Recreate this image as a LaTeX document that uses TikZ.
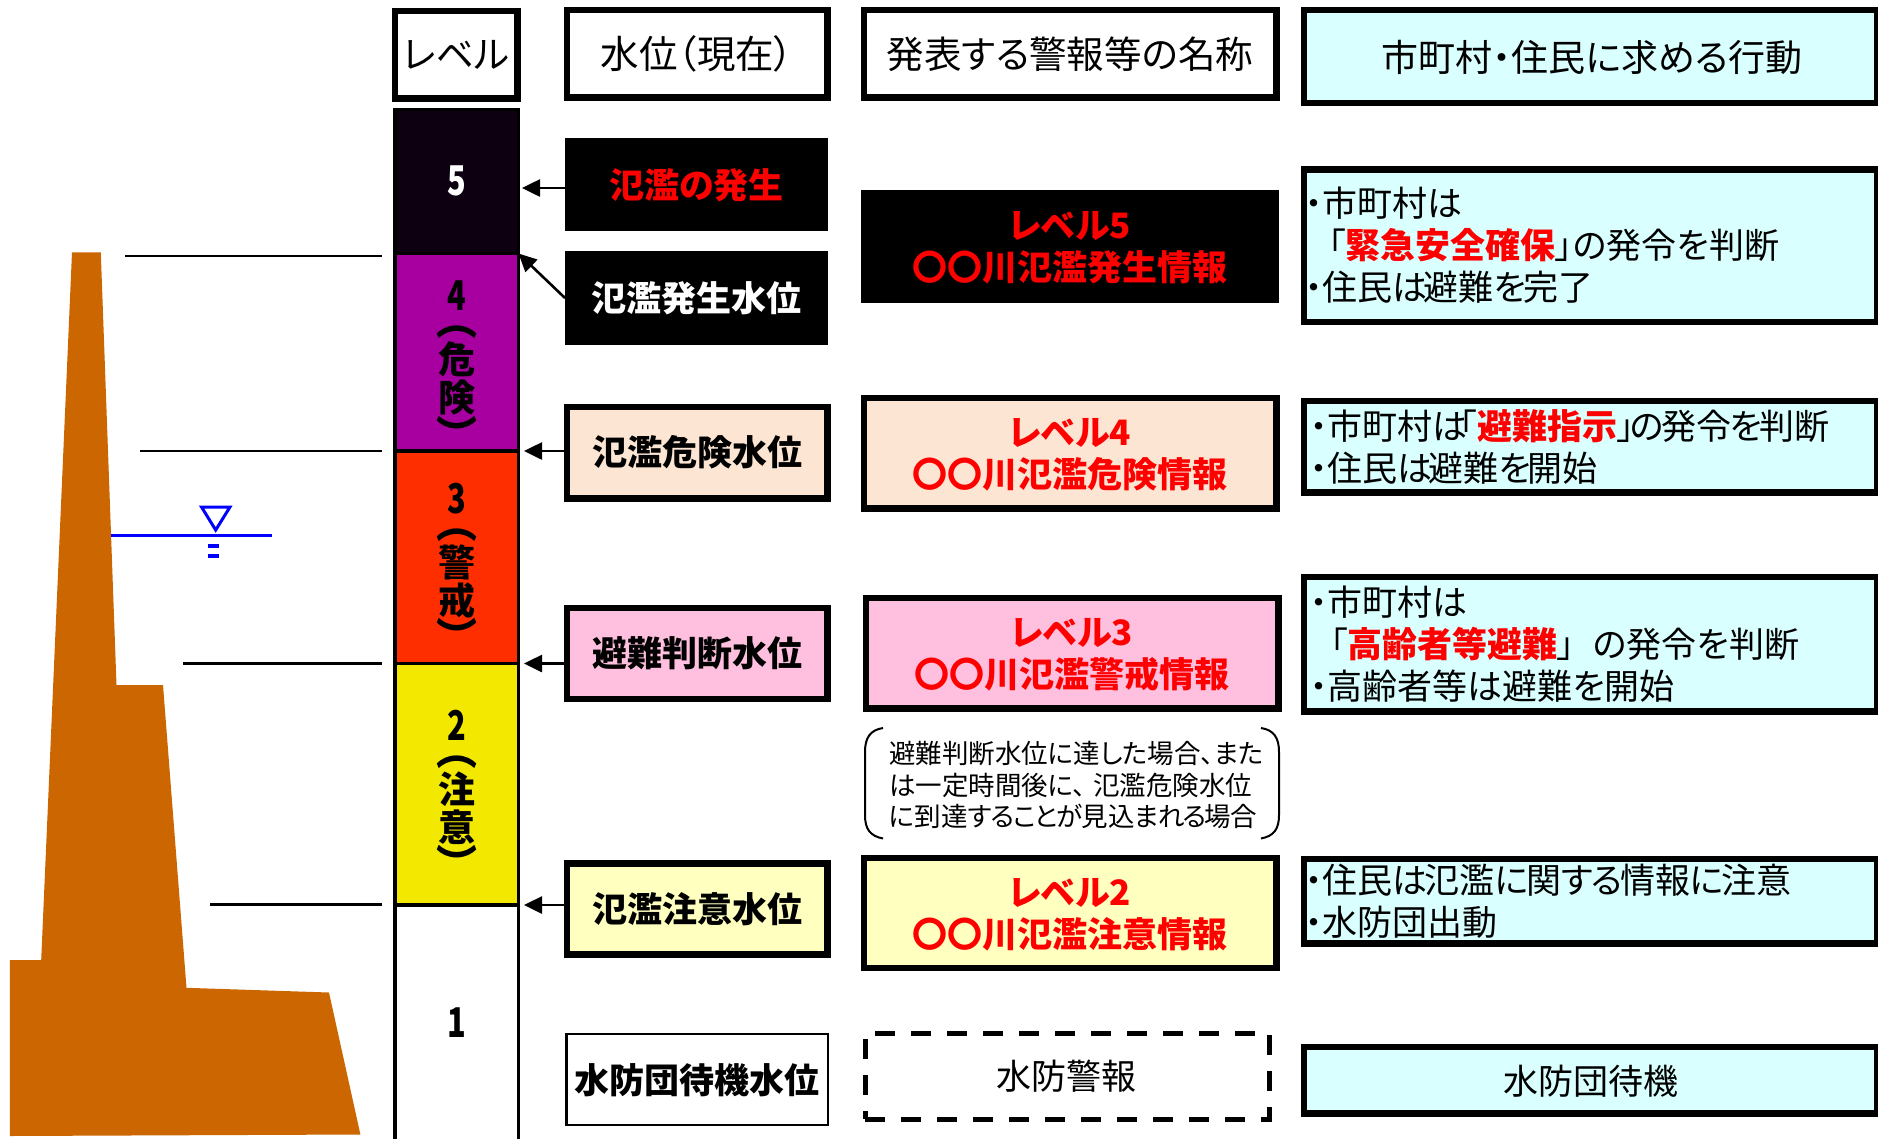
\documentclass[tikz,border=0pt]{standalone}
\usepackage{fontspec}
\usetikzlibrary{arrows.meta}
\setmainfont{Noto Sans CJK JP}[RawFeature=+palt]
\newfontfamily\dgfont{Noto Sans CJK JP}[FakeStretch=0.75]
\definecolor{damc}{HTML}{CC6600}
\definecolor{peach}{HTML}{FDE5D3}
\definecolor{pinkb}{HTML}{FFC0E0}
\definecolor{yellowb}{HTML}{FFFFC0}
\definecolor{cyanb}{HTML}{D9FFFF}
\definecolor{lvfive}{HTML}{0D0010}
\definecolor{lvfour}{HTML}{A800A0}
\definecolor{lvthree}{HTML}{FF2E00}
\definecolor{lvtwo}{HTML}{F2E800}
\newcommand{\rd}[1]{{\bfseries\color{red}#1}}
\newcommand{\dt}{・}
\newcommand{\dg}[1]{{\dgfont\bfseries\fontsize{41}{38}\selectfont #1}}
\newcommand{\po}{{\fontsize{41}{38}\selectfont ︵}}
\newcommand{\pc}{{\fontsize{41}{38}\selectfont ︶}}
\newcommand{\kn}[1]{\hspace{-#1pt}}
\tikzset{
  sized/.style 2 args={minimum width=#1pt,minimum height=#2pt,inner sep=0pt,outer sep=0pt,rectangle},
  hbox/.style={draw=black,line width=6.5pt},
  abox/.style={draw=black,line width=6.5pt,fill=cyanb},
  blk/.style={fill=black,draw=none},
  seg/.style={draw=black,line width=3.2pt},
  big/.style={font=\fontsize{35}{42}\selectfont,inner sep=0pt,outer sep=0pt},
  hdr/.style={font=\fontsize{37.5}{42}\selectfont,inner sep=0pt,outer sep=0pt},
  bigb/.style={font=\fontsize{35}{41.5}\selectfont\bfseries,inner sep=0pt,outer sep=0pt,align=center},
  red2/.style={bigb,text=red},
  act/.style={big,anchor=west,align=left},
  lvtext/.style={font=\fontsize{37}{38}\selectfont\bfseries,inner sep=0pt,align=center},
  arr/.style={line width=2.6pt,-{Triangle[length=18pt,width=17pt]}},
  lvl/.style={line width=2.4pt,draw=black},
}
\begin{document}
\begin{tikzpicture}[x=1pt,y=-1pt]
\useasboundingbox (0,0) rectangle (1878,1138);
\fill[white] (0,0) rectangle (1878,1138);
% dam
\fill[damc] (72,252.4) -- (100.8,252.4) -- (116.5,685) -- (163,685) -- (186.5,987.8) -- (329,992.5) -- (360.4,1134.5) -- (9.8,1136) -- (9.8,960) -- (41.2,960) -- cycle;
% water mark
\draw[blue,line width=3pt] (110.6,535) -- (271.5,535);
\draw[blue,line width=3pt] (201.5,507) -- (230,507) -- (215.7,530) -- cycle;
\draw[blue,line width=4pt] (207.6,546) -- (219,546);
\draw[blue,line width=4pt] (207.6,555.6) -- (219,555.6);
% headers
\node[sized={122.5}{87.5},hbox] (hdrL) at (456,54.5) {};
\node[sized={260.5}{87.5},hbox] (hdrW) at (697,53.5) {};
\node[sized={412.5}{87.5},hbox] (hdrN) at (1070,53.5) {};
\node[sized={573}{93},abox] (hdrA) at (1590.5,56.5) {};
\node[hdr] (tL) at (456,54.5) {レベル};
\node[hdr,font=\fontsize{38.5}{42}\selectfont] (tW) at (697,54) {水位（現在）};
\node[hdr] (tN) at (1070,54.5) {発表する警報等の名称};
\node[hdr,font=\fontsize{37}{42}\selectfont] (tA) at (1592,57) {市町村・住民に求める行動};
% level column
\node[sized={123.5}{144},seg,fill=lvfive] (lv5) at (456.75,181.5) {};
\node[sized={123.5}{197.5},seg,fill=lvfour] (lv4) at (456.75,352.25) {};
\node[sized={123.5}{212.5},seg,fill=lvthree] (lv3) at (456.75,557.25) {};
\node[sized={123.5}{241.5},seg,fill=lvtwo] (lv2) at (456.75,784.25) {};
\node[sized={123.5}{240},seg,fill=white] (lv1) at (456.75,1025) {};
\node[lvtext,text=white] (n5) at (456.75,181) {\dg{5}};
\node[lvtext] (n4) at (456.75,365.5) {\dg{4}\\[-13pt]\po\\危\\険\\\pc};
\node[lvtext] (n3) at (456.75,567.5) {\dg{3}\\[-13pt]\po\\警\\戒\\\pc};
\node[lvtext] (n2) at (456.75,795) {\dg{2}\\[-13pt]\po\\注\\意\\\pc};
\node[lvtext] (n1) at (456.75,1023) {\dg{1}};
% water level boxes
\node[sized={263}{93},blk] (b5) at (696.5,184.5) {};
\node[sized={263}{94},blk] (bf) at (696.5,298) {};
\node[sized={260.5}{91.5},hbox,fill=peach] (b4) at (697,452.5) {};
\node[sized={260.5}{91},hbox,fill=pinkb] (b3) at (697,653.25) {};
\node[sized={260.5}{91},hbox,fill=yellowb] (b2) at (697,909) {};
\node[sized={261.5}{91},draw=black,line width=2.5pt] (b1) at (697,1079.5) {};
\node[red2] (t5) at (696.5,185) {氾濫の発生};
\node[bigb,text=white] (tf) at (696.5,298) {氾濫発生水位};
\node[bigb] (t4) at (697,452) {氾濫危険水位};
\node[bigb] (t3) at (697,653) {避難判断水位};
\node[bigb] (t2) at (697,909) {氾濫注意水位};
\node[bigb] (t1) at (697,1080) {水防団待機水位};
% arrows
\coordinate (e5) at (522,188);
\coordinate (e4) at (524,451);
\coordinate (e3) at (524,663.5);
\coordinate (e2) at (524,905);
\draw[arr] (b5.west |- e5) -- (e5);
\draw[arr] (bf.west) -- (lv4.north east);
\draw[arr] (b4.west |- e4) -- (e4);
\draw[arr] (b3.west |- e3) -- (e3);
\draw[arr] (b2.west |- e2) -- (e2);
% level lines
\coordinate (s4) at (125,256); \coordinate (f4) at (381.6,256);
\coordinate (s3) at (140,451); \coordinate (f3) at (381.6,451);
\coordinate (s2) at (183,663.5); \coordinate (f2) at (381.6,663.5);
\coordinate (s1) at (210,904.5); \coordinate (f1) at (381.6,904.5);
\draw[lvl] (s4) -- (f4);
\draw[lvl] (s3) -- (f3);
\draw[lvl] (s2) -- (f2);
\draw[lvl] (s1) -- (f1);
% warning names
\node[sized={418}{113},blk] (w5) at (1070,246) {};
\node[sized={412.5}{110.5},hbox,fill=peach] (w4) at (1070,453) {};
\node[sized={412.5}{110.5},hbox,fill=pinkb] (w3) at (1072,653) {};
\node[sized={412.5}{110},hbox,fill=yellowb] (w2) at (1070,913) {};
\node[sized={404}{86},draw=black,line width=5pt,dash pattern=on 20pt off 16pt] (w1) at (1067,1076) {};
\node[red2] (tw5) at (1070,247.7) {レベル5\\〇〇川氾濫発生情報};
\node[red2] (tw4) at (1070,455) {レベル4\\〇〇川氾濫危険情報};
\node[red2] (tw3) at (1072,655) {レベル3\\〇〇川氾濫警戒情報};
\node[red2] (tw2) at (1070,915) {レベル2\\〇〇川氾濫注意情報};
\node[big] (tw1) at (1066,1076) {水防警報};
% note
\node[font=\fontsize{26.5}{31.5}\selectfont,inner sep=0pt,anchor=west,align=left] (note) at (889,785) {避難判断水位に達した場合、また\\は一定時間後に、\hspace{7pt}氾濫危険水位\\に到達す\kn{1}る\kn{1}こ\kn{2}と\kn{1}が\kn{1}見込ま\kn{1}れ\kn{2}る\kn{2}場合};
\draw[line width=2pt] (883,728) .. controls (870,730) and (865,738) .. (865,752) -- (865,815) .. controls (865,829) and (870,836) .. (883,838.5);
\draw[line width=2pt] (1261,728) .. controls (1274,730) and (1279,738) .. (1279,752) -- (1279,815) .. controls (1279,829) and (1274,836) .. (1261,838.5);
% actions
\node[sized={573}{152.5},abox] (a5) at (1590.5,245.75) {};
\node[sized={573}{91.5},abox] (a4) at (1590.5,446.5) {};
\node[sized={573}{134.5},abox] (a3) at (1590.5,644) {};
\node[sized={573}{84.5},abox] (a2) at (1590.5,901) {};
\node[sized={573}{66.5},abox] (a1) at (1590.5,1080) {};
\node[act] (ta5) at (1305,245.5) {\dt 市町村は\\\hspace{23pt}「\rd{緊急安全確保}」の発令を判断\\\dt 住民は\kn{4}避難を\kn{2}完了};
\node[act] (ta4) at (1310,447) {\dt 市町村は\kn{8}「\rd{避難指示}」\kn{4}の\kn{3}発令\kn{1}を\kn{3}判断\\\dt 住民は\kn{4}避難を\kn{3}開始};
\node[act] (ta3) at (1310,644.5) {\dt 市町村は\\\hspace{20pt}「\rd{高齢者等避難}」\hspace{18pt}の発令を判断\\\dt 高齢者等は避難を開始};
\node[act] (ta2) at (1305,901) {\dt 住民は\kn{3}氾濫に\kn{2}関す\kn{2}る\kn{2}情報に\kn{2}注意\\\dt 水防団出動};
\node[big] (ta1) at (1591,1081) {水防団待機};
\end{tikzpicture}
\end{document}
